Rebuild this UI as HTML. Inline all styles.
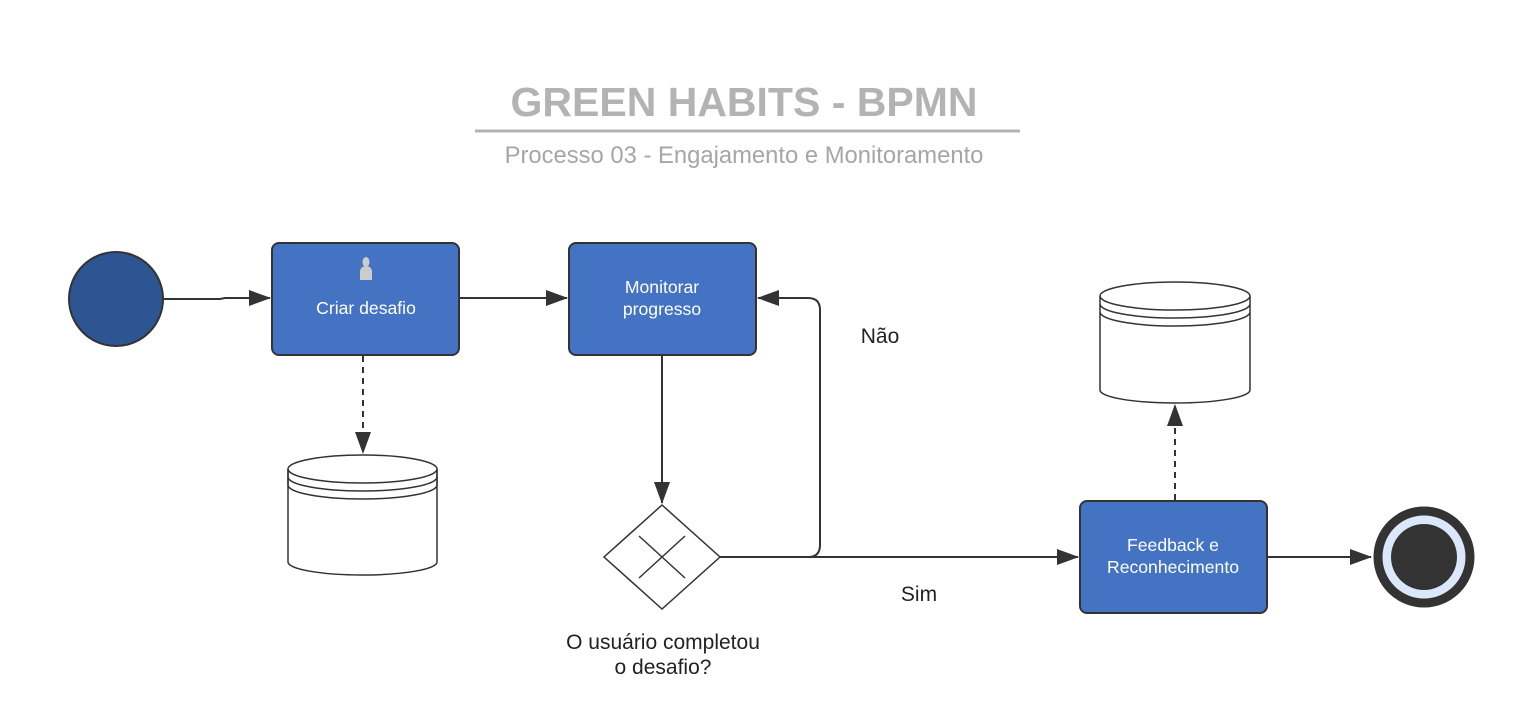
<!DOCTYPE html>
<html><head><meta charset="utf-8"><style>
html,body{margin:0;padding:0;background:#fff;width:1524px;height:726px;overflow:hidden}
svg{display:block;font-family:"Liberation Sans",sans-serif}
</style></head><body>
<svg width="1524" height="726" viewBox="0 0 1524 726">
<defs>
<marker id="a" markerWidth="22" markerHeight="16" refX="21" refY="8" orient="auto" markerUnits="userSpaceOnUse">
<path d="M0,0 L22,8 L0,16 Z" fill="#333"/></marker>
</defs>
<text x="744" y="116" text-anchor="middle" font-size="41" font-weight="bold" fill="#b3b3b3">GREEN HABITS - BPMN</text>
<line x1="475" y1="131" x2="1020" y2="131" stroke="#b3b3b3" stroke-width="3"/>
<text x="744" y="163" text-anchor="middle" font-size="23.8" fill="#a6a6a6">Processo 03 - Engajamento e Monitoramento</text>

<circle cx="116" cy="299" r="47" fill="#2d5592" stroke="#333" stroke-width="2"/>
<path d="M164,299 L220,299 L225,298 L270,298" fill="none" stroke="#333" stroke-width="2" marker-end="url(#a)"/>

<rect x="272" y="243" width="187" height="112" rx="7" fill="#4473c4" stroke="#333" stroke-width="2"/>
<ellipse cx="366" cy="262" rx="3.5" ry="5" fill="#ccc"/>
<path d="M360,280 L360,271 Q361,266 366,266 Q371,266 372,271 L372,280 Z" fill="#ccc"/>
<text x="366" y="314" text-anchor="middle" font-size="17.6" fill="#fff">Criar desafio</text>

<line x1="460" y1="298" x2="567" y2="298" stroke="#333" stroke-width="2" marker-end="url(#a)"/>

<rect x="569" y="243" width="187" height="112" rx="7" fill="#4473c4" stroke="#333" stroke-width="2"/>
<text x="662" y="293" text-anchor="middle" font-size="17.6" fill="#fff">Monitorar</text>
<text x="662" y="315" text-anchor="middle" font-size="17.6" fill="#fff">progresso</text>

<line x1="363" y1="356" x2="363" y2="453" stroke="#333" stroke-width="2" stroke-dasharray="6,5" marker-end="url(#a)"/>
<g fill="#fff" stroke="#333" stroke-width="1.5">
<path d="M288,469 L288,562 A74.5,13 0 0 0 437,562 L437,469"/>
<ellipse cx="362.5" cy="469" rx="74.5" ry="14"/>
<path d="M288,469 L288,485 A74.5,14 0 0 0 437,485 L437,469" fill="none"/>
<path d="M288,477 A74.5,14 0 0 0 437,477" fill="none"/>
</g>

<line x1="662" y1="356" x2="662" y2="503" stroke="#333" stroke-width="2" marker-end="url(#a)"/>
<path d="M662,505 L720,557 L662,609 L604,557 Z" fill="#fff" stroke="#333" stroke-width="1.5"/>
<line x1="639" y1="536" x2="685" y2="578" stroke="#333" stroke-width="1.5"/>
<line x1="685" y1="536" x2="639" y2="578" stroke="#333" stroke-width="1.5"/>
<text x="663" y="649" text-anchor="middle" font-size="21" fill="#222">O usuário completou</text>
<text x="663" y="674" text-anchor="middle" font-size="21" fill="#222">o desafio?</text>

<path d="M720,557 L808,557 Q820,557 820,545 L820,310 Q820,298 808,298 L758,298" fill="none" stroke="#333" stroke-width="2" marker-end="url(#a)"/>
<text x="880" y="343" text-anchor="middle" font-size="21" fill="#222">Não</text>
<line x1="808" y1="557" x2="1078" y2="557" stroke="#333" stroke-width="2" marker-end="url(#a)"/>
<text x="919" y="601" text-anchor="middle" font-size="21" fill="#222">Sim</text>

<rect x="1080" y="501" width="187" height="112" rx="7" fill="#4473c4" stroke="#333" stroke-width="2"/>
<text x="1173" y="551" text-anchor="middle" font-size="17.6" fill="#fff">Feedback e</text>
<text x="1173" y="573" text-anchor="middle" font-size="17.6" fill="#fff">Reconhecimento</text>

<line x1="1175" y1="500" x2="1175" y2="405" stroke="#333" stroke-width="2" stroke-dasharray="6,5" marker-end="url(#a)"/>
<g fill="#fff" stroke="#333" stroke-width="1.5">
<path d="M1100,296 L1100,390 A75,13 0 0 0 1250,390 L1250,296"/>
<ellipse cx="1175" cy="296" rx="75" ry="14"/>
<path d="M1100,304 A75,14 0 0 0 1250,304" fill="none"/>
<path d="M1100,312 A75,14 0 0 0 1250,312" fill="none"/>
</g>

<line x1="1268" y1="557" x2="1371" y2="557" stroke="#333" stroke-width="2" marker-end="url(#a)"/>
<circle cx="1424" cy="557" r="46" fill="#dbe8fb" stroke="#333" stroke-width="9"/>
<circle cx="1424" cy="557" r="33" fill="#333"/>
</svg>
</body></html>
